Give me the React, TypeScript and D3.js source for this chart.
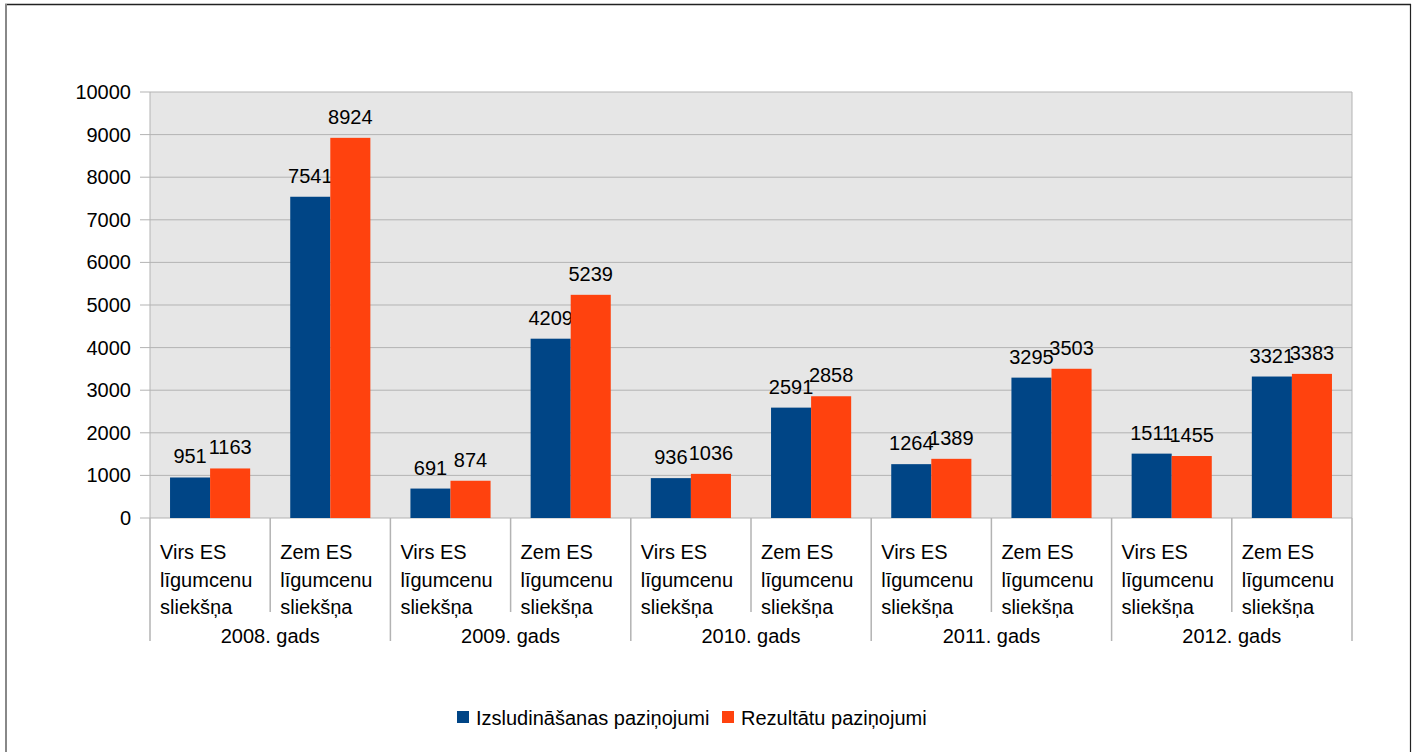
import React from "react";
import * as d3 from "d3";

const years = ["2008. gads", "2009. gads", "2010. gads", "2011. gads", "2012. gads"];
const thresholds = ["Virs ES līgumcenu sliekšņa", "Zem ES līgumcenu sliekšņa"];
const thresholdLines = [
  ["Virs ES", "līgumcenu", "sliekšņa"],
  ["Zem ES", "līgumcenu", "sliekšņa"],
];
const seriesNames = ["Izsludināšanas paziņojumi", "Rezultātu paziņojumi"];
const izsludinasanas = [951, 7541, 691, 4209, 936, 2591, 1264, 3295, 1511, 3321];
const rezultatu = [1163, 8924, 874, 5239, 1036, 2858, 1389, 3503, 1455, 3383];
const yTicks = [0, 1000, 2000, 3000, 4000, 5000, 6000, 7000, 8000, 9000, 10000];
const colors = ["#004586", "#ff420e"];

const W = 1415;
const H = 752;
const FONT = "'Liberation Sans', Arial, sans-serif";

export default function App() {
  const left = 150, right = 1352, top = 92, bottom = 518;
  const cats = d3.range(years.length * thresholds.length).map(String);
  const x = d3.scaleBand<string>().domain(cats).range([left, right]).paddingInner(0).paddingOuter(0);
  const xs = d3.scaleBand<string>().domain(["0", "1"]).range([0, x.bandwidth()]).paddingInner(0).paddingOuter(0.5);
  const y = d3.scaleLinear().domain([0, 10000]).range([bottom, top]);
  const series = [izsludinasanas, rezultatu];

  return (
    <div style={{ position: "absolute", left: 0, top: 0 }}>
      <svg width={W} height={H} style={{ display: "block", fontFamily: FONT }}>
        <rect x={0} y={0} width={W} height={H} fill="#fff" />
        {/* outer frame */}
        <line x1={5} x2={1411} y1={4.5} y2={4.5} stroke="#222" strokeWidth={1.5} />
        <line x1={6} x2={6} y1={4} y2={H} stroke="#888" strokeWidth={2} />
        <line x1={1410.5} x2={1410.5} y1={4} y2={H} stroke="#222" strokeWidth={1.2} />

        {/* plot area */}
        <rect x={left} y={top} width={right - left} height={bottom - top} fill="#e6e6e6" />
        {yTicks.map((t) => (
          <g key={t}>
            <line x1={left - 10} x2={right} y1={y(t)} y2={y(t)} stroke="#b3b3b3" strokeWidth={1} />
            <text x={131} y={y(t) + 7} textAnchor="end" fontSize={20} fill="#000">{t}</text>
          </g>
        ))}
        <line x1={left} x2={left} y1={top} y2={bottom} stroke="#b3b3b3" />
        <line x1={right} x2={right} y1={top} y2={bottom} stroke="#b3b3b3" />

        {/* bars */}
        {cats.map((c, i) => (
          <g key={c}>
            {series.map((s, k) => {
              const bx = (x(c) as number) + (xs(String(k)) as number);
              const bw = xs.bandwidth();
              return (
                <g key={k}>
                  <rect x={bx} y={y(s[i])} width={bw} height={bottom - y(s[i])} fill={colors[k]} />
                  <text x={bx + bw / 2} y={y(s[i]) - 14} textAnchor="middle" fontSize={20} fill="#000">{s[i]}</text>
                </g>
              );
            })}
          </g>
        ))}

        {/* category axis separators */}
        {d3.range(cats.length + 1).map((i) => {
          const xx = left + i * x.step();
          const isYear = i % 2 === 0;
          return (
            <line key={i} x1={xx} x2={xx} y1={bottom} y2={isYear ? 641 : 612} stroke="#b3b3b3" strokeWidth={1.5} />
          );
        })}
        {cats.map((c, i) => (
          <text key={c} fontSize={20} fill="#000">
            {thresholdLines[i % 2].map((ln, j) => (
              <tspan key={j} x={(x(c) as number) + 10} y={559 + j * 27.5}>{ln}</tspan>
            ))}
          </text>
        ))}
        {years.map((yr, j) => (
          <text key={yr} x={left + (2 * j + 1) * x.step()} y={643} textAnchor="middle" fontSize={20} fill="#000">{yr}</text>
        ))}

        {/* legend */}
        {seriesNames.map((n, k) => {
          const lx = k === 0 ? 457 : 722;
          return (
            <g key={n}>
              <rect x={lx} y={711} width={12} height={12} fill={colors[k]} />
              <text x={lx + 19} y={725} fontSize={20} fill="#000">{n}</text>
            </g>
          );
        })}
      </svg>
    </div>
  );
}
